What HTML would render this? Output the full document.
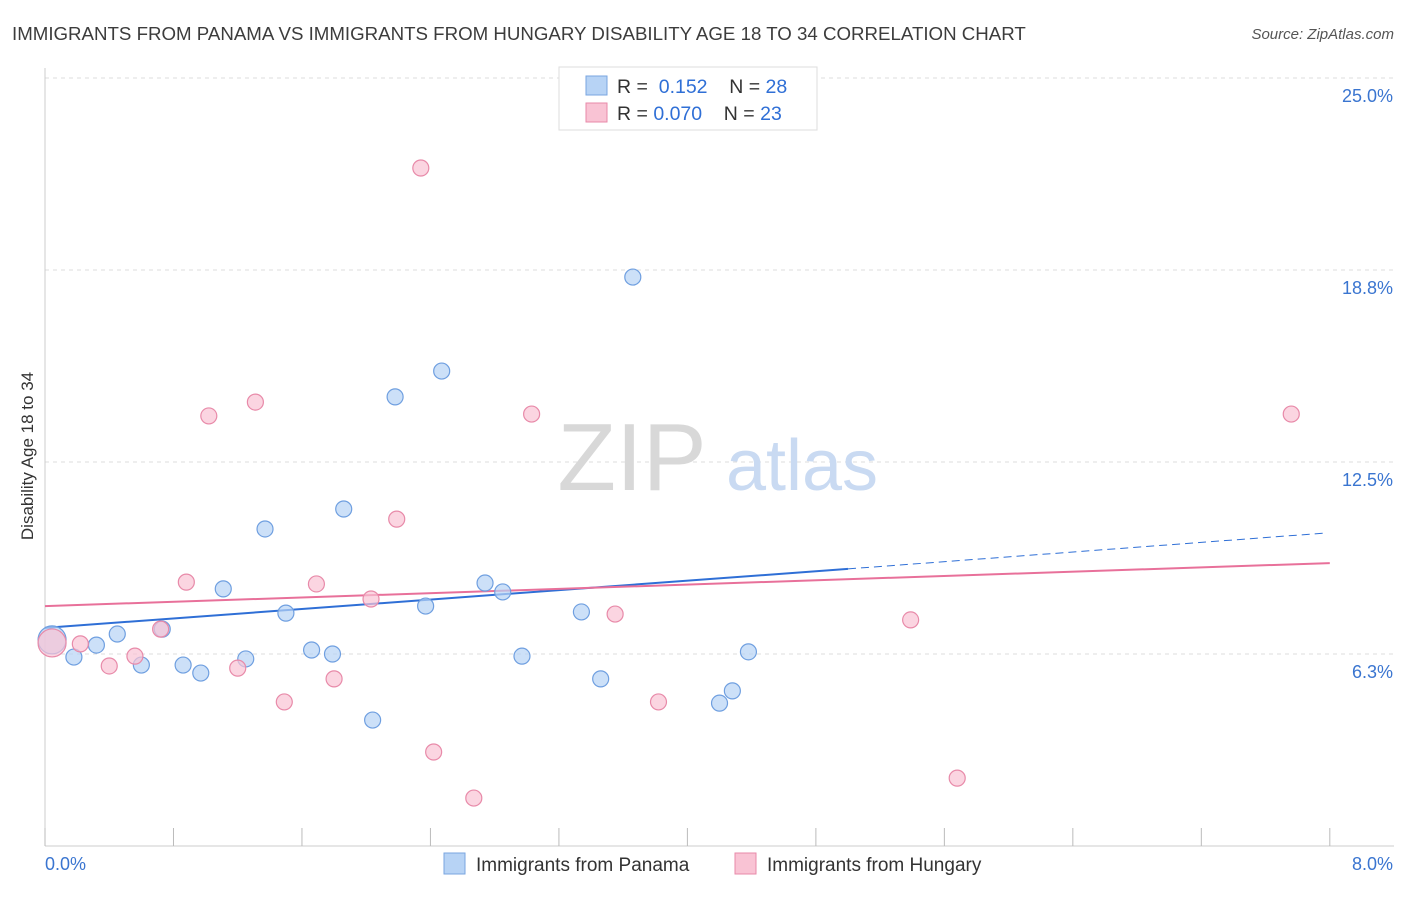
<!DOCTYPE html>
<html><head><meta charset="utf-8"><style>
body{margin:0;background:#fff;font-family:"Liberation Sans",sans-serif}
svg text{font-family:"Liberation Sans",sans-serif}
</style></head><body>
<svg id="chart" width="1406" height="892" viewBox="0 0 1406 892" xmlns="http://www.w3.org/2000/svg">
<text x="12" y="40" font-size="18.7" fill="#3c3c3c">IMMIGRANTS FROM PANAMA VS IMMIGRANTS FROM HUNGARY DISABILITY AGE 18 TO 34 CORRELATION CHART</text>
<text x="1394" y="39" font-size="15" fill="#555" text-anchor="end" font-style="italic">Source: ZipAtlas.com</text>
<g id="grid"></g>
<g>
<text x="632" y="490" font-size="96" fill="#d8d8d8" font-family="Liberation Serif" text-anchor="middle">ZIP</text>
<text x="802" y="490" font-size="72" fill="#c9daf2" text-anchor="middle">atlas</text>
</g>
<text transform="translate(33,456) rotate(-90)" font-size="17" fill="#333" text-anchor="middle">Disability Age 18 to 34</text>
<g id="lines"></g>
<g id="points"></g>
<g>
<rect x="559" y="67" width="258" height="63" fill="#fff" stroke="#ddd"/>
<rect x="586" y="76" width="21" height="19" fill="#b7d3f5" stroke="#7aa6e0"/>
<rect x="586" y="103" width="21" height="19" fill="#f9c3d4" stroke="#e88aa9"/>
<text x="617" y="93" font-size="19.5" fill="#333">R = <tspan fill="#2f6fd6">&#160;0.152</tspan>&#160;&#160;&#160;&#160;N = <tspan fill="#2f6fd6">28</tspan></text>
<text x="617" y="120" font-size="19.5" fill="#333">R = <tspan fill="#2f6fd6">0.070</tspan>&#160;&#160;&#160;&#160;N = <tspan fill="#2f6fd6">23</tspan></text>
</g>
<g>
<rect x="444" y="853" width="21" height="21" fill="#b7d3f5" stroke="#7aa6e0"/>
<text x="476" y="871" font-size="19" fill="#333">Immigrants from Panama</text>
<rect x="735" y="853" width="21" height="21" fill="#f9c3d4" stroke="#e88aa9"/>
<text x="767" y="871" font-size="19" fill="#333">Immigrants from Hungary</text>
</g>
</svg>
<script>
const yTicks=[6.25,12.5,18.75,25];
const yTickLabels=["6.3%","12.5%","18.8%","25.0%"];
const xTickLabels=["0.0%","8.0%"];
const panamaX=[0.044,0.18,0.32,0.45,0.60,0.73,0.86,0.97,1.11,1.25,1.37,1.50,1.66,1.79,1.86,2.04,2.18,2.37,2.47,2.74,2.85,2.97,3.34,3.46,3.66,4.20,4.28,4.38];
const panamaY=[6.71,6.15,6.54,6.90,5.89,7.06,5.89,5.63,8.37,6.09,10.32,7.58,6.38,6.25,10.97,4.10,14.62,7.81,15.46,8.56,8.27,6.18,7.62,5.44,18.52,4.65,5.05,6.32];
const hungaryX=[0.044,0.22,0.40,0.56,0.72,0.88,1.02,1.20,1.31,1.49,1.69,1.80,2.03,2.19,2.34,2.42,2.67,3.03,3.55,3.82,5.39,5.68,7.76];
const hungaryY=[6.61,6.58,5.86,6.18,7.06,8.59,14.00,5.79,14.45,4.69,8.53,5.44,8.04,10.64,22.07,3.06,1.56,14.06,7.55,4.69,7.36,2.21,14.06];
const panamaTrend=[7.10,9.02,10.19]; // at x=0, 5.0, 7.98
const hungaryTrend=[7.81,9.21]; // at x=0, 8
const NS="http://www.w3.org/2000/svg";
const X=v=>45+v*160.6, Y=v=>846-v*30.72;
function mk(tag,attrs,parent){const e=document.createElementNS(NS,tag);for(const k in attrs)e.setAttribute(k,attrs[k]);document.getElementById(parent).appendChild(e);return e;}
yTicks.forEach((t,i)=>{
 const l=mk('line',{x1:45,x2:1394,y1:Y(t),y2:Y(t),stroke:'#ddd','stroke-dasharray':'4,4'},'grid');
 
 
 const tx=mk('text',{x:1393,y:Y(t)+24,'font-size':18,fill:'#3a75d0','text-anchor':'end'},'grid');
 tx.textContent=yTickLabels[i];
 
 
});
const ax=mk('line',{x1:45,x2:1394,y1:846,y2:846,stroke:'#ccc'},'grid');


const ay=mk('line',{x1:45,x2:45,y1:68,y2:846,stroke:'#ccc'},'grid');


for(let i=0;i<=10;i++){
 const t=mk('line',{x1:X(i*0.8),x2:X(i*0.8),y1:828,y2:846,stroke:'#bbb'},'grid');
 
 
}
[[0,xTickLabels[0],'start',45],[8,xTickLabels[1],'end',1393]].forEach(a=>{
 const t=mk('text',{x:a[3],y:870,'font-size':18,fill:'#3a75d0','text-anchor':a[2]},'grid');
 t.textContent=a[1];
 
 
});
function pts(xs,ys,fill,stroke,name){
 xs.forEach((x,i)=>{
  const c=mk('circle',{cx:X(x),cy:Y(ys[i]),r:i===0?14:8,fill:fill,'fill-opacity':0.7,stroke:stroke,'stroke-width':1.2},'points');
  
  
 });
}
pts(panamaX,panamaY,'#b7d3f5','#6f9fe0','panama-point');
pts(hungaryX,hungaryY,'#f9c3d4','#e88aa9','hungary-point');
let l1=mk('line',{x1:X(0),y1:Y(panamaTrend[0]),x2:X(5),y2:Y(panamaTrend[1]),stroke:'#2f6fd6','stroke-width':2},'lines');


let l2=mk('line',{x1:X(5),y1:Y(panamaTrend[1]),x2:X(7.98),y2:Y(panamaTrend[2]),stroke:'#2f6fd6','stroke-width':1,'stroke-dasharray':'8,5'},'lines');


let l3=mk('line',{x1:X(0),y1:Y(hungaryTrend[0]),x2:X(8),y2:Y(hungaryTrend[1]),stroke:'#e8709a','stroke-width':2},'lines');


</script>
</body></html>
